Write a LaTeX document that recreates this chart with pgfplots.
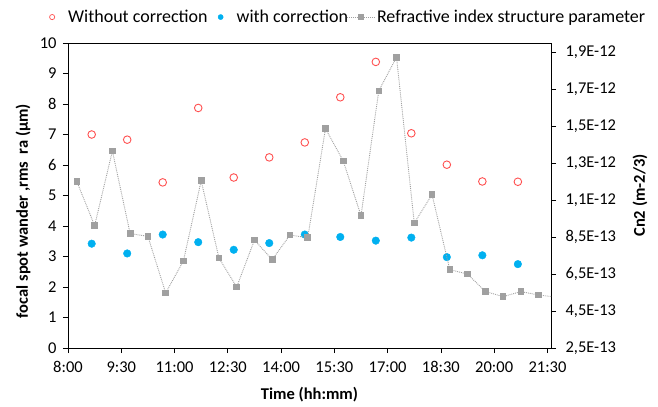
\documentclass[border=0pt]{standalone}
\usepackage{pgfplots}
\pgfplotsset{compat=1.18}
\usepackage{fontspec}
\setmainfont{Carlito}
\definecolor{redc}{RGB}{255,80,80}
\definecolor{bluec}{RGB}{0,176,240}
\definecolor{grayc}{RGB}{160,160,160}
\pgfplotsset{
  common/.style={
    scale only axis, width=483bp, height=305bp,
    xmin=8, xmax=21.6,
    tick align=outside, major tick length=5bp,
    axis line style={black, line width=0.8bp},
    tick style={black, line width=0.8bp},
    /pgf/number format/assume math mode=true,
  },
  markleg/.style={legend image code/.code={\pgfpathrectangle{\pgfpoint{-3bp}{-3bp}}{\pgfpoint{6bp}{6bp}}\pgfusepath{discard}\draw[##1] plot coordinates {(0bp,0bp)};}},
  lineleg/.style={legend image code/.code={\pgfpathrectangle{\pgfpoint{-3bp}{-3bp}}{\pgfpoint{6bp}{6bp}}\pgfusepath{discard}%
    \draw[overlay,##1,mark size=2.2bp,mark repeat=2,mark phase=2] plot coordinates {(-14bp,0bp) (0bp,0bp) (13bp,0bp)};}},
}
\begin{document}
\begin{tikzpicture}[font=\fontsize{16.5bp}{19bp}\selectfont]
\begin{axis}[common,
  ymin=0, ymax=10, ytick={0,1,...,10},
  xtick={8,9.5,11,12.5,14,15.5,17,18.5,20,21.5},
  xticklabels={8:00,9:30,11:00,12:30,14:00,15:30,17:00,18:30,20:00,21:30},
  xtick pos=left, ytick pos=left,
  xticklabel style={yshift=-5bp},
  yticklabel style={xshift=-3bp},
  xlabel={\bfseries Time (hh:mm)},
  ylabel={\bfseries focal spot wander ,rms~ ra (µm)},
  xlabel style={at={(axis description cs:0.5,-0.154)}, anchor=center},
  ylabel style={at={(axis description cs:-0.093,0.449)}, anchor=center},
]
\addplot[only marks, mark=o, mark size=3.8bp, mark options={draw=redc, line width=0.9bp}] coordinates {
(8.667,7.00) (9.667,6.83) (10.667,5.43) (11.667,7.87) (12.667,5.59) (13.667,6.25) (14.667,6.74)
(15.667,8.22) (16.667,9.38) (17.667,7.04) (18.667,6.01) (19.667,5.46) (20.667,5.45)};
\addplot[only marks, mark=*, mark size=3.8bp, mark options={draw=bluec, fill=bluec}] coordinates {
(8.667,3.42) (9.667,3.10) (10.667,3.72) (11.667,3.47) (12.667,3.22) (13.667,3.44) (14.667,3.72)
(15.667,3.64) (16.667,3.52) (17.667,3.62) (18.667,2.98) (19.667,3.04) (20.667,2.75)};
\end{axis}
\begin{axis}[common,
  axis x line=none, axis y line*=right,
  ymin=2.5, ymax=19,
  ytick={2.5,4.5,6.5,8.5,10.5,12.5,14.5,16.5,18.5},
  yticklabels={{2,5E-13},{4,5E-13},{6,5E-13},{8,5E-13},{1,1E-12},{1,3E-12},{1,5E-12},{1,7E-12},{1,9E-12}},
  yticklabel style={xshift=6bp},
  ylabel={\bfseries Cn2 (m-2/3)},
  every axis y label/.style={at={(axis description cs:1.184,0.5)}, anchor=center, rotate=90},
  legend columns=3,
  legend cell align=left,
  legend style={at={(axis description cs:0.578,1.085)}, anchor=center, draw=none, fill=none,
    font=\fontsize{18bp}{20bp}\selectfont,
    nodes={inner xsep=0bp, inner ysep=1bp},
    /tikz/every odd column/.append style={column sep=13bp},
    /tikz/every even column/.append style={column sep=10bp}},
]
\addlegendimage{only marks, mark=o, mark size=2.6bp, mark options={draw=redc, line width=0.7bp}, markleg}
\addlegendentry{Without correction}
\addlegendimage{only marks, mark=*, mark size=2.6bp, mark options={draw=bluec, fill=bluec}, markleg}
\addlegendentry{with correction}
\addplot[grayc, densely dotted, line width=0.9bp, mark=square*, mark size=2.8bp, mark options={solid, fill=grayc, draw=grayc}, lineleg] coordinates {
(8.25,11.5) (8.75,9.12) (9.25,13.16) (9.75,8.69) (10.25,8.54) (10.75,5.48) (11.25,7.21)
(11.75,11.55) (12.25,7.37) (12.75,5.80) (13.25,8.34) (13.75,7.28) (14.25,8.61) (14.75,8.47)
(15.25,14.37) (15.75,12.62) (16.25,9.66) (16.75,16.41) (17.25,18.23) (17.75,9.26) (18.25,10.8)
(18.75,6.74) (19.25,6.50) (19.75,5.56) (20.25,5.28) (20.75,5.55) (21.25,5.37) (21.75,5.25)};
\addlegendentry{Refractive index structure parameter}
\end{axis}
\pgfresetboundingbox
\path ([xshift=-68bp,yshift=-59bp]current axis.south west) rectangle ([xshift=107bp,yshift=43bp]current axis.north east);
\end{tikzpicture}
\end{document}
